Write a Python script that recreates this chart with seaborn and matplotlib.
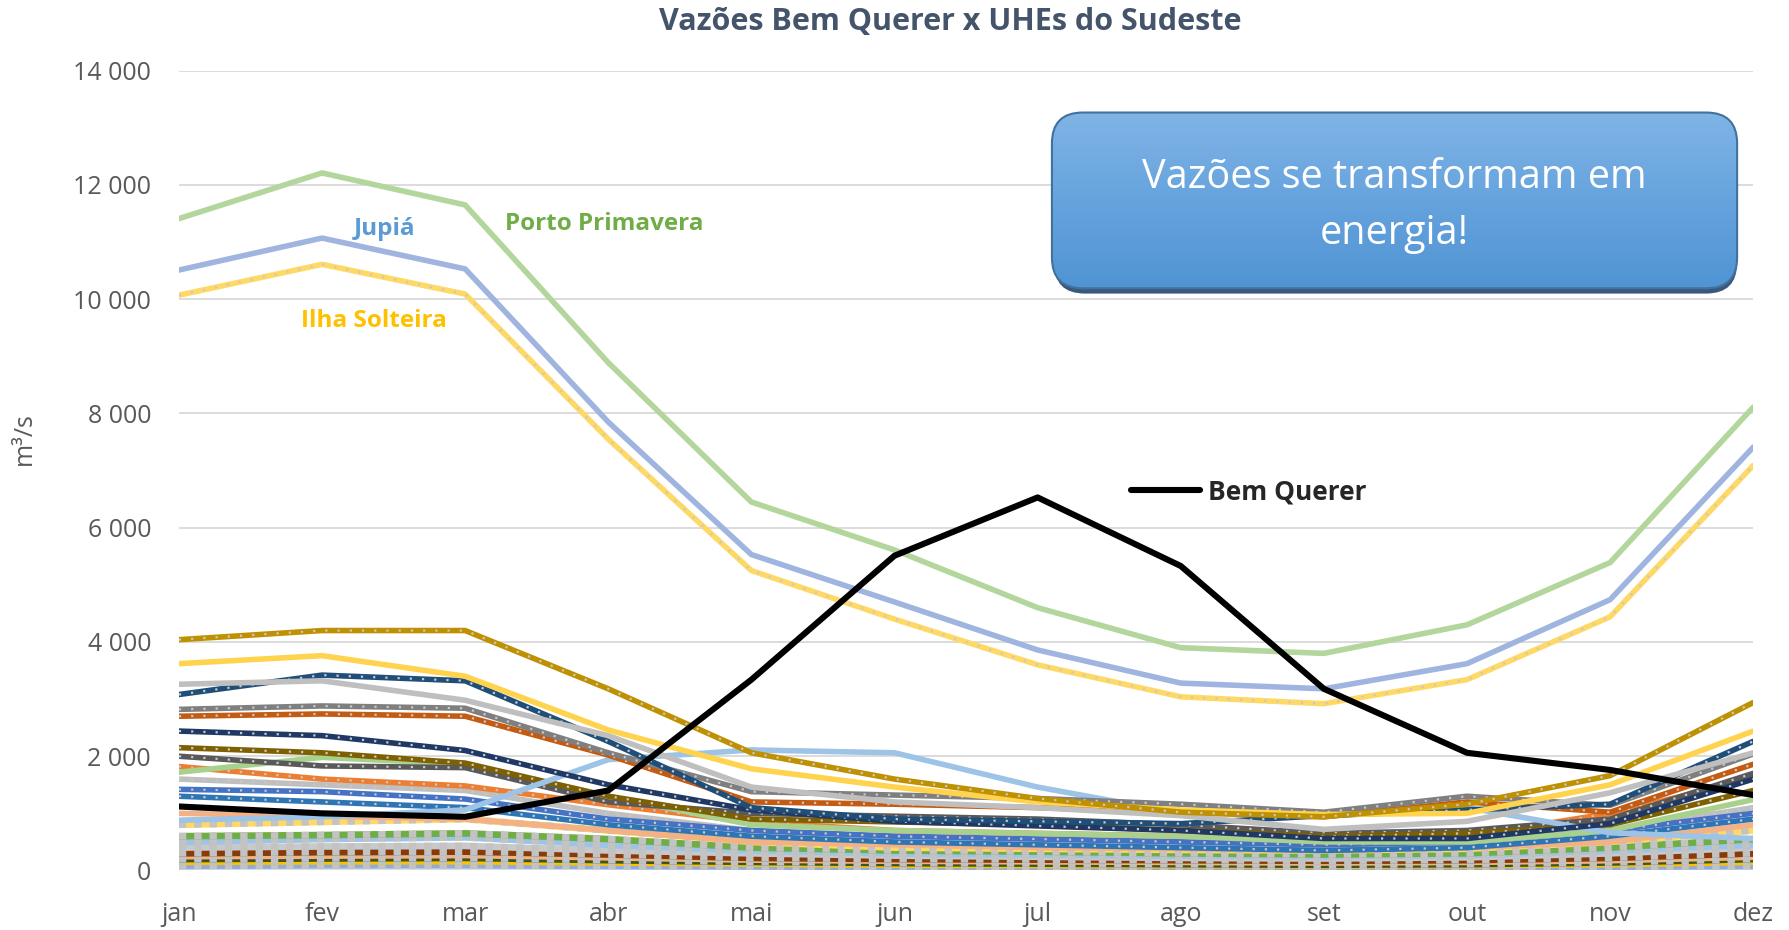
import numpy as np
import pandas as pd
import seaborn as sns
import matplotlib.pyplot as plt
from matplotlib.patches import FancyBboxPatch
from matplotlib.colors import LinearSegmentedColormap

# Dados (m3/s)
meses = ["jan", "fev", "mar", "abr", "mai", "jun", "jul", "ago", "set", "out", "nov", "dez"]

bem_querer = [1120, 1000, 940, 1400, 3340, 5510, 6530, 5330, 3180, 2060, 1760, 1320]
porto_primavera = [11410, 12210, 11650, 8890, 6450, 5610, 4600, 3900, 3800, 4300, 5390, 8110]
jupia = [10510, 11070, 10530, 7850, 5530, 4700, 3860, 3280, 3180, 3620, 4740, 7410]
ilha_solteira = [10070, 10610, 10090, 7550, 5250, 4400, 3600, 3040, 2920, 3340, 4440, 7090]

# demais UHEs do Sudeste
uhe_a = [4040, 4200, 4200, 3180, 2060, 1600, 1260, 1020, 940, 1160, 1660, 2940]
uhe_b = [3620, 3760, 3400, 2460, 1780, 1460, 1200, 1060, 980, 1000, 1500, 2440]
uhe_c = [3260, 3320, 2980, 2360, 1460, 1200, 1100, 960, 720, 860, 1360, 2060]
uhe_d = [3080, 3420, 3320, 2260, 1100, 900, 860, 820, 960, 1060, 1160, 2260]
uhe_e = [2820, 2880, 2840, 2060, 1380, 1320, 1260, 1160, 1020, 1300, 1140, 2040]
uhe_f = [2700, 2740, 2700, 2020, 1200, 1160, 1100, 1020, 940, 1200, 1020, 1860]
uhe_g = [2440, 2360, 2100, 1500, 1060, 860, 780, 700, 560, 560, 820, 1600]
uhe_h = [880, 940, 1060, 1940, 2110, 2060, 1460, 1000, 1000, 1100, 660, 560]
uhe_i = [2150, 2060, 1880, 1300, 900, 850, 800, 700, 600, 650, 800, 1400]
uhe_j = [2000, 1830, 1800, 1200, 1000, 950, 900, 800, 650, 700, 900, 1700]
uhe_k = [1720, 1980, 1860, 1300, 800, 700, 650, 600, 500, 500, 700, 1240]
uhe_l = [1820, 1600, 1480, 1150, 850, 700, 650, 600, 550, 600, 1000, 1600]
uhe_m = [1420, 1380, 1250, 900, 700, 600, 550, 500, 450, 500, 700, 1000]
uhe_n = [1300, 1200, 1100, 800, 600, 500, 450, 400, 350, 400, 600, 900]
uhe_o = [1600, 1500, 1400, 1000, 700, 600, 550, 500, 450, 500, 700, 1100]
uhe_p = [1000, 950, 900, 700, 500, 450, 400, 380, 350, 400, 500, 800]
uhe_q = [800, 850, 900, 700, 500, 400, 380, 360, 350, 380, 500, 700]
uhe_r = [600, 620, 650, 550, 400, 350, 330, 300, 280, 300, 400, 550]
uhe_s = [500, 550, 580, 450, 350, 300, 280, 260, 250, 270, 350, 450]
uhe_t = [400, 420, 430, 350, 300, 260, 240, 220, 210, 230, 300, 400]
uhe_u = [300, 320, 330, 280, 220, 200, 190, 180, 170, 180, 220, 300]
uhe_v = [320, 330, 340, 300, 250, 220, 200, 190, 180, 190, 230, 300]
uhe_w = [250, 260, 270, 230, 190, 170, 160, 150, 140, 150, 180, 240]
uhe_x = [200, 210, 220, 180, 150, 130, 120, 110, 100, 110, 140, 200]
uhe_y = [150, 160, 160, 140, 120, 100, 95, 90, 85, 90, 110, 150]
uhe_z = [80, 90, 90, 80, 70, 60, 55, 50, 50, 55, 65, 80]

# estilo de cada serie: (valores, cor, padrao) -> padrao: None, "pontos" ou "barras"
estilos = [
    (uhe_z, "#8faadc", "barras"), (uhe_y, "#ffc000", "barras"), (uhe_x, "#375623", "barras"),
    (uhe_w, "#f4b183", "barras"), (uhe_v, "#7f6000", "barras"), (uhe_u, "#843c0c", "barras"),
    (uhe_t, "#c9c9c9", "barras"), (uhe_s, "#9dc3e6", "barras"), (uhe_r, "#70ad47", "barras"),
    (uhe_q, "#ffd966", "barras"), (uhe_p, "#f4b183", None), (uhe_o, "#bfbfbf", "pontos"),
    (uhe_n, "#2e75b6", "pontos"), (uhe_m, "#4472c4", "pontos"), (uhe_l, "#ed7d31", "pontos"),
    (uhe_k, "#a9d18e", None), (uhe_j, "#595959", "pontos"), (uhe_i, "#7f6000", "pontos"),
    (uhe_h, "#9dc3e6", None), (uhe_g, "#203864", "pontos"), (uhe_f, "#c55a11", "pontos"),
    (uhe_e, "#7f7f7f", "pontos"), (uhe_d, "#1f4e79", "pontos"), (uhe_c, "#bfbfbf", None),
    (uhe_b, "#ffd34d", None), (uhe_a, "#bf9000", "pontos"),
    (ilha_solteira, "#ffd966", "pontos"), (jupia, "#9fb5e0", None), (porto_primavera, "#b2d69b", None),
]

sns.set_style("white")
plt.rcParams["font.family"] = ["Open Sans", "DejaVu Sans"]

fig = plt.figure(figsize=(17.89, 9.30), dpi=100)
ax = fig.add_axes([0.100, 0.064, 0.880, 0.860])

x = np.arange(len(meses))
for valores, cor, padrao in estilos:
    lw = 4.8 if padrao == "barras" else 4.0
    sns.lineplot(x=x, y=valores, color=cor, linewidth=lw, ax=ax, estimator=None, sort=False)
    if padrao == "pontos":
        sns.lineplot(x=x, y=valores, color="#c8c8c8", linewidth=1.6, linestyle=(0, (1, 4.5)),
                     ax=ax, estimator=None, sort=False)
    elif padrao == "barras":
        sns.lineplot(x=x, y=valores, color="#c3c3c3", linewidth=4.8, linestyle=(0, (1.1, 1.2)),
                     ax=ax, estimator=None, sort=False)

sns.lineplot(x=x, y=bem_querer, color="black", linewidth=4.4, ax=ax, estimator=None, sort=False,
             label="Bem Querer")

ax.set_xlim(0, len(meses) - 1)
ax.set_ylim(0, 14000)
ax.set_yticks(np.arange(0, 14001, 2000))
ax.set_yticklabels([f"{v:,}".replace(",", " ") for v in range(0, 14001, 2000)])
ax.set_xticks(x)
ax.set_xticklabels(meses)
ax.tick_params(axis="both", colors="#595959", labelsize=18, length=0)
ax.tick_params(axis="x", pad=23)
ax.tick_params(axis="y", pad=20)
ax.grid(axis="y", color="#d9d9d9", linewidth=1.3)
ax.set_axisbelow(True)
for s in ax.spines.values():
    s.set_visible(False)
ax.set_ylabel("m³/s", color="#595959", fontsize=18)
ax.yaxis.set_label_coords(-0.090, 0.54)

leg = ax.legend(loc="center left", bbox_to_anchor=(0.605, 0.473), frameon=False,
                handlelength=2.6, handletextpad=0.3, borderpad=0, borderaxespad=0,
                prop={"weight": "bold", "size": 19})

ax.text(1.44, 11230, "Jupiá", color="#5b9bd5", fontsize=17.5, fontweight="bold", ha="center", va="center")
ax.text(2.97, 11310, "Porto Primavera", color="#70ad47", fontsize=17.5, fontweight="bold", ha="center", va="center")
ax.text(1.36, 9620, "Ilha Solteira", color="#ffc000", fontsize=17.5, fontweight="bold", ha="center", va="center")

fig.text(0.531, 0.976, "Vazões Bem Querer x UHEs do Sudeste", color="#44546a", fontsize=22,
         fontweight="bold", ha="center", va="center")

# caixa de destaque
bx = fig.add_axes([0.588, 0.690, 0.383, 0.189])
bx.set_xlim(0, 1)
bx.set_ylim(0, 1)
bx.axis("off")
asp = (0.383 * 1789) / (0.189 * 930)
sombra = FancyBboxPatch((0.003, -0.03), 0.997, 1.0, boxstyle="round,pad=0,rounding_size=0.045",
                        mutation_aspect=asp, fc="#24466e", ec="none", alpha=0.9, clip_on=False, zorder=1)
bx.add_patch(sombra)
caixa = FancyBboxPatch((0, 0), 1, 1, boxstyle="round,pad=0,rounding_size=0.045",
                       mutation_aspect=asp, fc="none", ec="#41719c", lw=1.5, clip_on=False, zorder=3)
bx.add_patch(caixa)
grad = LinearSegmentedColormap.from_list("g", ["#5094d3", "#66a3de", "#80b4e6"])
img = bx.imshow(np.linspace(0, 1, 256).reshape(-1, 1), extent=[0, 1, 0, 1], origin="lower",
                aspect="auto", cmap=grad, zorder=2)
img.set_clip_path(caixa)
bx.text(0.5, 0.47, "Vazões se transformam em\nenergia!", color="white", fontsize=28.5,
        ha="center", va="center", linespacing=1.5, zorder=4)

fig.savefig("out.png", dpi=100)
